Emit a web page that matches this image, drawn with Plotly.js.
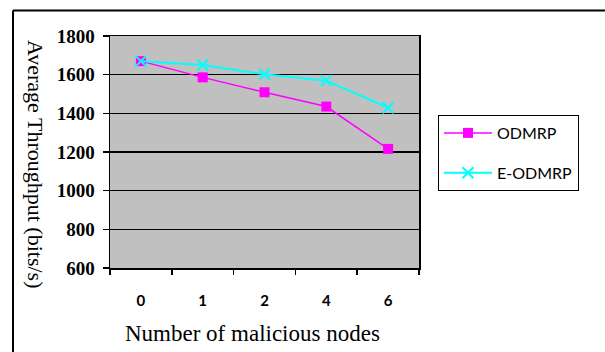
<!DOCTYPE html>
<html><head><meta charset="utf-8">
<script src="https://cdn.plot.ly/plotly-3.0.1.min.js"></script>
<style>html,body{margin:0;padding:0;background:#fff}#c{width:605px;height:352px}</style>
</head><body><div id="c"></div>
<script>
const categories = ["0", "1", "2", "4", "6"];
const odmrp = [1670, 1586, 1509, 1435, 1216];
const eodmrp = [1670, 1650, 1602, 1569, 1429];
const yTicks = [600, 800, 1000, 1200, 1400, 1600, 1800];

const serif = "Liberation Serif";
const sans = "Lato";

const traces = [
  {x: categories, y: odmrp, name: "ODMRP", type: "scatter", mode: "lines+markers", legendgroup: "a",
   line: {color: "#ff00ff", width: 1.5},
   marker: {symbol: "square", size: 10, color: "#ff00ff"}},
  {x: categories, y: eodmrp, name: "E-ODMRP", type: "scatter", mode: "lines+markers", legendgroup: "b",
   line: {color: "#00ffff", width: 2},
   marker: {symbol: "x-thin", size: 11, color: "#00ffff", line: {color: "#00ffff", width: 2}}}
];

const layout = {
  width: 605, height: 352,
  margin: {l: 110, r: 186, t: 36, b: 84},
  paper_bgcolor: "#ffffff", plot_bgcolor: "#c0c0c0",
  showlegend: true,
  legend: {x: 438/605, y: 1 - 115/352, xref: "container", yref: "container", xanchor: "left", yanchor: "top",
    bgcolor: "#ffffff", bordercolor: "#000000", borderwidth: 1, traceorder: "grouped", tracegroupgap: 16,
    font: {family: sans, size: 16, color: "#000"}, itemwidth: 48},
  xaxis: {type: "category", range: [-0.5, 4.5], showgrid: false, zeroline: false,
    showline: true, linecolor: "#000", linewidth: 1.5, mirror: true,
    ticks: "outside", ticklen: 5, tickcolor: "#000", tickwidth: 1.5, tickson: "boundaries",
    ticklabelstandoff: 18,
    tickfont: {family: sans, size: 15, color: "#000", weight: 700}},
  yaxis: {range: [600, 1800], tickvals: yTicks, showgrid: true, gridcolor: "#000", gridwidth: 1.5,
    zeroline: false, showline: true, linecolor: "#000", linewidth: 1.5, mirror: true,
    ticks: "outside", ticklen: 6, tickcolor: "#000", tickwidth: 1.5,
    ticklabelstandoff: 4,
    tickfont: {family: serif, size: 19, color: "#000", weight: "bold"}},
  annotations: [
    {text: "Number of malicious nodes", xref: "paper", yref: "paper", x: (252-110)/309, y: (268-333)/232,
     xanchor: "center", yanchor: "middle", showarrow: false, font: {family: serif, size: 23, color: "#000"}},
    {text: "Average Throughput (bits/s)", xref: "paper", yref: "paper", x: (36-110)/309, y: (268-164)/232,
     xanchor: "center", yanchor: "middle", textangle: 90, showarrow: false, font: {family: serif, size: 22, color: "#000"}}
  ],
  shapes: [
    {type: "line", xref: "paper", yref: "paper", x0: (13-110)/309, x1: (13-110)/309, y0: (268-352)/232, y1: (268-10.5)/232,
     line: {color: "#000", width: 2}},
    {type: "line", xref: "paper", yref: "paper", x0: (13-110)/309, x1: (605-110)/309, y0: (268-10.5)/232, y1: (268-10.5)/232,
     line: {color: "#000", width: 2}}
  ]
};

Plotly.newPlot("c", traces, layout, {displayModeBar: false, staticPlot: true});
</script></body></html>
